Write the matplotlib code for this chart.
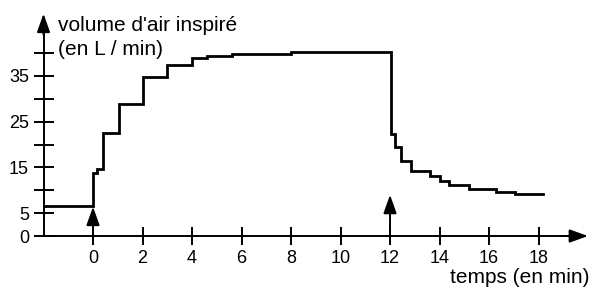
import matplotlib
matplotlib.use("Agg")
import matplotlib.pyplot as plt

plt.rcParams['font.family'] = ['Liberation Sans', 'DejaVu Sans']

# Data (time in min, volume in L/min), step changes
times = [-2, 0, 0.15, 0.4, 1.05, 2, 3, 4, 4.6, 5.6, 8, 12.05, 12.2, 12.43,
         12.84, 13.6, 14.0, 14.4, 15.2, 16.3, 17.05, 18.2]
volumes = [6.6, 13.8, 14.7, 22.5, 28.8, 34.7, 37.4, 38.9, 39.4, 39.8, 40.2,
           22.3, 19.5, 16.4, 14.3, 13.1, 12.1, 11.2, 10.3, 9.6, 9.1, 9.1]
x_ticks = [0, 2, 4, 6, 8, 10, 12, 14, 16, 18]
y_ticks = [0, 5, 10, 15, 20, 25, 30, 35, 40]
y_tick_labels = ['0', '5', '', '15', '', '25', '', '35', '']
event_times = [0, 12]
event_arrow_tops = [6.4, 9.0]

fig = plt.figure(figsize=(5.92, 2.9), dpi=100)
ax = fig.add_axes([0, 0, 1, 1])
ax.set_xlim(-3.758, 20.16)
ax.set_ylim(-11.8, 51.6)
ax.patch.set_alpha(0)

lw_axis = 1.4
ax.step(times, volumes, where='post', color='black', lw=2.0,
        solid_joinstyle='miter')

for s in ['top', 'right']:
    ax.spines[s].set_visible(False)
ax.spines['left'].set_position(('data', -2))
ax.spines['bottom'].set_position(('data', 0))
ax.spines['left'].set_bounds(0, 46)
ax.spines['bottom'].set_bounds(-2, 19.3)
for s in ['left', 'bottom']:
    ax.spines[s].set_linewidth(lw_axis)

ax.set_xticks(x_ticks)
ax.set_xticklabels([str(t) for t in x_ticks])
ax.set_yticks(y_ticks)
ax.set_yticklabels(y_tick_labels)
ax.tick_params(axis='x', direction='inout', length=13, width=lw_axis,
               labelsize=13, pad=3.5)
ax.tick_params(axis='y', direction='inout', length=14, width=lw_axis,
               labelsize=13, pad=3.5)

arrow_style = '-|>,head_length=0.7,head_width=0.25'
# axis arrow heads
ax.annotate('', xy=(-2, 48.6), xytext=(-2, 44),
            arrowprops=dict(arrowstyle=arrow_style, lw=lw_axis, color='black',
                            mutation_scale=16, shrinkA=0, shrinkB=0))
ax.annotate('', xy=(20.0, 0), xytext=(19.0, 0),
            arrowprops=dict(arrowstyle=arrow_style, lw=lw_axis, color='black',
                            mutation_scale=16, shrinkA=0, shrinkB=0))

# event arrows
for t, top in zip(event_times, event_arrow_tops):
    ax.annotate('', xy=(t, top), xytext=(t, 0),
                arrowprops=dict(arrowstyle=arrow_style, lw=1.4, color='black',
                                mutation_scale=16, shrinkA=0, shrinkB=0))

fig.text(58/592, 1 - 31/290, "volume d'air inspiré", fontsize=15,
         ha='left', va='baseline')
fig.text(58/592, 1 - 55/290, "(en L / min)", fontsize=15,
         ha='left', va='baseline')
fig.text(590/592, 1 - 283/290, "temps (en min)", fontsize=15,
         ha='right', va='baseline')

fig.savefig('out.png', dpi=100)
